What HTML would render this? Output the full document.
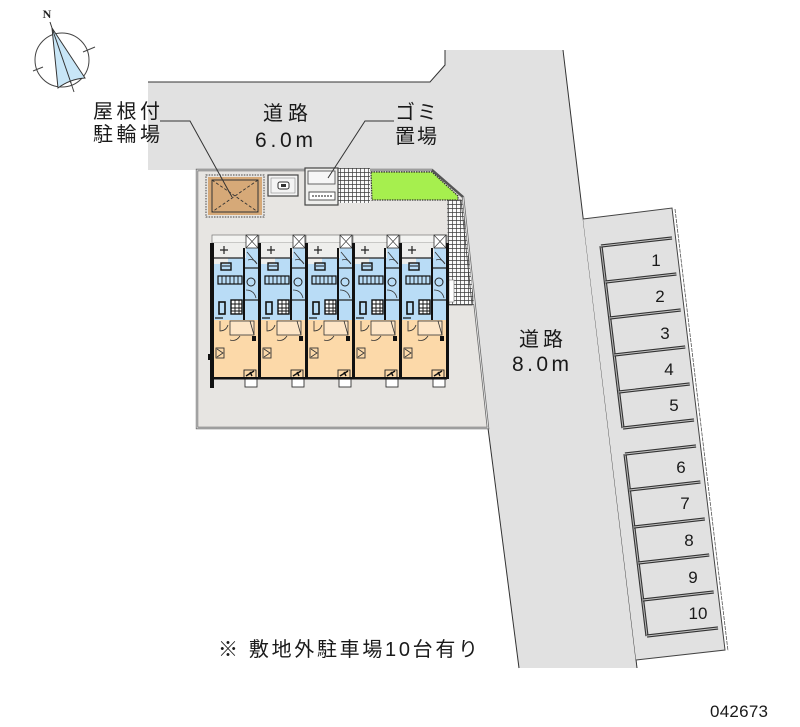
<!DOCTYPE html>
<html><head><meta charset="utf-8"><style>
html,body{margin:0;padding:0;background:#fff;}
svg{display:block;}
.jp{font-family:"Liberation Sans","Noto Sans CJK JP",sans-serif;fill:#1a1a1a;}
.num{font-family:"Liberation Sans",sans-serif;fill:#1a1a1a;}
</style></head><body>
<svg width="800" height="727" viewBox="0 0 800 727" xmlns="http://www.w3.org/2000/svg">
<defs>
<pattern id="grid" width="4" height="4" patternUnits="userSpaceOnUse">
<rect width="4" height="4" fill="#fafafa"/>
<path d="M0 0.3H4M0.3 0V4" stroke="#3a3a3a" stroke-width="0.8"/>
</pattern>
<g id="unit">
<rect x="0" y="235" width="47" height="8" fill="#f3f3f1" stroke="#777" stroke-width="0.7"/>
<rect x="2" y="243" width="32" height="15" fill="#eeeeec"/>
<rect x="2" y="258" width="44" height="62" fill="#b9dcf6"/>
<rect x="34" y="248" width="12" height="12" fill="#b9dcf6"/>
<rect x="2" y="258" width="14" height="6" fill="#eeeeec"/>
<rect x="34" y="235" width="12" height="13" fill="#fff" stroke="#333" stroke-width="0.8"/>
<path d="M34 235L46 248M46 235L34 248" stroke="#333" stroke-width="0.6"/>
<path d="M12 246v8M8 250h8" stroke="#222" stroke-width="1.2"/>
<rect x="31" y="248" width="2" height="72" fill="#111"/>
<path d="M2 258h30M33 268h13M33 300h13" stroke="#222" stroke-width="1.2"/>
<rect x="9" y="263" width="10" height="7" fill="none" stroke="#111" stroke-width="1.4"/>
<path d="M10 266h8" stroke="#111" stroke-width="1"/>
<path d="M35 252L45 264M36 260q6 -2 9 4" stroke="#333" stroke-width="0.8" fill="none"/>
<rect x="6" y="276" width="24" height="8" fill="none" stroke="#111" stroke-width="1.2"/>
<path d="M10 276v8M14 276v8M18 276v8M22 276v8M26 276v8" stroke="#111" stroke-width="0.9"/>
<circle cx="39" cy="282" r="4" fill="none" stroke="#222" stroke-width="1"/>
<path d="M34 290q8 0 10 8" stroke="#333" stroke-width="0.8" fill="none"/>
<rect x="19" y="300" width="11" height="14" fill="#fff" stroke="#111" stroke-width="1.4"/>
<path d="M19 304h11M19 308h11M19 311h11M23 300v14M27 300v14" stroke="#111" stroke-width="0.9"/>
<rect x="7" y="302" width="6" height="12" fill="none" stroke="#111" stroke-width="1.6"/>
<path d="M3 318h8" stroke="#111" stroke-width="1.2"/>
<rect x="2" y="320" width="44" height="58" fill="#fcd9a9"/>
<rect x="18" y="321" width="24" height="14" fill="#fde5c6" stroke="#333" stroke-width="0.8"/>
<path d="M38 321l4 14" stroke="#333" stroke-width="0.8"/>
<path d="M8 321v10q6 0 8 -6" stroke="#333" stroke-width="0.8" fill="none"/>
<path d="M28 336q-4 6 -10 4" stroke="#333" stroke-width="0.8" fill="none"/>
<rect x="40" y="336" width="4" height="5" fill="#111"/>
<rect x="4" y="348" width="8" height="10" fill="none" stroke="#333" stroke-width="0.9"/>
<path d="M5 349l6 4l-6 4" stroke="#333" stroke-width="0.8" fill="none"/>
<rect x="32" y="370" width="12" height="8" fill="none" stroke="#222" stroke-width="0.9"/>
<path d="M34 376l8 -5M38 372l2 4" stroke="#111" stroke-width="1.4"/>
<rect x="33" y="379" width="12" height="8" fill="#fff" stroke="#333" stroke-width="0.9"/>
<rect x="0" y="377" width="47" height="2.5" fill="#111"/>
<rect x="-1" y="243" width="3" height="136" fill="#111"/>
</g>
</defs>

<!-- roads -->
<polygon points="148,82 430,82 445,65 445,50 563,50 637,668 519,668 488,428 463,197 432,170 148,170" fill="#e1e1e1"/>
<polyline points="148,82 430,82 445,65 445,50" fill="none" stroke="#333" stroke-width="1"/>
<line x1="563" y1="50" x2="637" y2="668" stroke="#333" stroke-width="1"/>
<line x1="488" y1="428" x2="519" y2="668" stroke="#333" stroke-width="1"/>

<!-- parking area -->
<polygon points="583,219 672,208 725,650 636,660" fill="#e1e1e1"/>
<polyline points="583,219 672,208 725,650 636,660" fill="none" stroke="#444" stroke-width="1"/>
<line x1="675" y1="209" x2="728" y2="651" stroke="#555" stroke-width="0.8" stroke-dasharray="4 1"/>

<g fill="none">
<line x1="601" y1="246" x2="623" y2="428" stroke="#333" stroke-width="3.2"/>
<line x1="601" y1="246" x2="623" y2="428" stroke="#bbb" stroke-width="1"/>
<line x1="625" y1="454" x2="647" y2="636" stroke="#333" stroke-width="3.2"/>
<line x1="625" y1="454" x2="647" y2="636" stroke="#bbb" stroke-width="1"/>
<g stroke="#333" stroke-width="3.2">
<line x1="601" y1="246" x2="672" y2="238"/>
<line x1="605.4" y1="282" x2="676.4" y2="274"/>
<line x1="609.7" y1="318" x2="680.7" y2="310"/>
<line x1="614.2" y1="355" x2="685.2" y2="347"/>
<line x1="618.7" y1="392" x2="689.7" y2="384"/>
<line x1="623" y1="428" x2="694" y2="420"/>
<line x1="625" y1="454" x2="696" y2="446"/>
<line x1="629.4" y1="490" x2="700.4" y2="482"/>
<line x1="633.8" y1="527" x2="704.8" y2="519"/>
<line x1="638.2" y1="563" x2="709.2" y2="555"/>
<line x1="642.7" y1="600" x2="713.7" y2="592"/>
<line x1="647" y1="636" x2="718" y2="628"/>
</g>
<g stroke="#c4c4c4" stroke-width="1">
<line x1="601" y1="246" x2="672" y2="238"/>
<line x1="605.4" y1="282" x2="676.4" y2="274"/>
<line x1="609.7" y1="318" x2="680.7" y2="310"/>
<line x1="614.2" y1="355" x2="685.2" y2="347"/>
<line x1="618.7" y1="392" x2="689.7" y2="384"/>
<line x1="623" y1="428" x2="694" y2="420"/>
<line x1="625" y1="454" x2="696" y2="446"/>
<line x1="629.4" y1="490" x2="700.4" y2="482"/>
<line x1="633.8" y1="527" x2="704.8" y2="519"/>
<line x1="638.2" y1="563" x2="709.2" y2="555"/>
<line x1="642.7" y1="600" x2="713.7" y2="592"/>
<line x1="647" y1="636" x2="718" y2="628"/>
</g>
</g>
<g class="num" font-size="17" text-anchor="middle">
<text x="656" y="266">1</text>
<text x="660" y="302">2</text>
<text x="665" y="339">3</text>
<text x="669" y="375">4</text>
<text x="674" y="411">5</text>
<text x="681" y="473">6</text>
<text x="685" y="509">7</text>
<text x="689" y="546">8</text>
<text x="693" y="583">9</text>
<text x="698" y="619">10</text>
</g>

<!-- site -->
<polygon points="197,170 432,170 463,197 488,428 197,428" fill="#e7e5e2" stroke="#6a6a6a" stroke-width="2.4"/>
<polygon points="197,170 432,170 463,197 488,428 197,428" fill="none" stroke="#f4f4f4" stroke-width="0.8"/>

<!-- grids -->
<rect x="338" y="168" width="32" height="35" fill="url(#grid)"/>
<polygon points="447,200 462,200 474,305 449,305" fill="url(#grid)"/>
<polygon points="448,200 461,200 472,305 449,305" fill="none" stroke="#444" stroke-width="0.8"/>
<rect x="449" y="280" width="5" height="22" fill="#fff" stroke="#777" stroke-width="0.6"/>
<!-- lawn -->
<polygon points="371,172 432,172 458,196 458,200 372,200" fill="#a6ef4e" stroke="#333" stroke-width="1.2" stroke-dasharray="1.5 1"/>
<path d="M432 170L463 197" stroke="#555" stroke-width="2.2"/>

<!-- bike parking -->
<rect x="206" y="175" width="58" height="42" fill="none" stroke="#444" stroke-width="1" stroke-dasharray="1.5 1.2"/>
<rect x="208" y="177" width="54" height="38" fill="#d6a978"/>
<rect x="212" y="180" width="46" height="32" fill="none" stroke="#333" stroke-width="1"/>
<path d="M212 180L258 212M258 180L212 212" stroke="#333" stroke-width="0.9" stroke-dasharray="3 2"/>
<!-- meter box -->
<rect x="268" y="175" width="30" height="21" fill="#f4f4f4" stroke="#444" stroke-width="1.2"/>
<rect x="271" y="178" width="24" height="15" fill="none" stroke="#888" stroke-width="0.6"/>
<rect x="278" y="182" width="11" height="7" rx="2" fill="#fff" stroke="#333" stroke-width="1"/>
<rect x="281" y="184" width="5" height="3" fill="#333"/>
<!-- garbage -->
<rect x="305" y="168" width="33" height="37" fill="#eeeeec" stroke="#444" stroke-width="1.2"/>
<rect x="308" y="171" width="27" height="13" fill="#f6f6f6" stroke="#555" stroke-width="0.9"/>
<rect x="309" y="192" width="26" height="8" fill="#fff" stroke="#444" stroke-width="0.9"/>
<path d="M312 196h20" stroke="#666" stroke-width="1.5" stroke-dasharray="2 1"/>

<!-- building -->
<use href="#unit" x="212"/>
<use href="#unit" x="259"/>
<use href="#unit" x="306"/>
<use href="#unit" x="353"/>
<use href="#unit" x="400"/>
<rect x="446" y="243" width="3" height="136" fill="#111"/>
<rect x="210" y="243" width="4" height="145" fill="#111"/>
<rect x="208" y="354" width="3" height="6" fill="#111"/>

<!-- leaders -->
<polyline points="160,121 190,121 232,197" fill="none" stroke="#333" stroke-width="1"/>
<polyline points="394,121 365,121 328,178" fill="none" stroke="#333" stroke-width="1"/>

<!-- labels -->
<g class="jp" font-size="20">
<text x="93" y="118" textLength="67" lengthAdjust="spacing">屋根付</text>
<text x="93" y="141" textLength="67" lengthAdjust="spacing">駐輪場</text>
<text x="263" y="120" textLength="45" lengthAdjust="spacing">道路</text>
<text x="395" y="119" textLength="42" lengthAdjust="spacing">ゴミ</text>
<text x="395" y="143" textLength="42" lengthAdjust="spacing">置場</text>
<text x="519" y="346" textLength="44" lengthAdjust="spacing">道路</text>
<text x="218" y="656" textLength="260" lengthAdjust="spacing">※ 敷地外駐車場10台有り</text>
</g>
<g class="num" font-size="21">
<text x="255" y="147" textLength="58" lengthAdjust="spacing">6.0m</text>
<text x="512" y="371" textLength="57" lengthAdjust="spacing">8.0m</text>
</g>
<text class="num" x="710" y="717" font-size="17" textLength="58" lengthAdjust="spacing">042673</text>

<!-- compass -->
<g>
<circle cx="62" cy="60" r="27" fill="none" stroke="#444" stroke-width="1"/>
<path d="M33 71L43 67M83 52L95 47M70 80L74 92" stroke="#444" stroke-width="1"/>
<path d="M52 28L58 88Q70 79 85 78Z" fill="#c8e6f7" stroke="#333" stroke-width="1"/>
<path d="M52 28L71 83M52 28L50 22" stroke="#333" stroke-width="1"/>
<text x="47" y="18" font-family="Liberation Serif,serif" font-weight="bold" font-size="12" text-anchor="middle" fill="#222">N</text>
</g>
</svg>
</body></html>
